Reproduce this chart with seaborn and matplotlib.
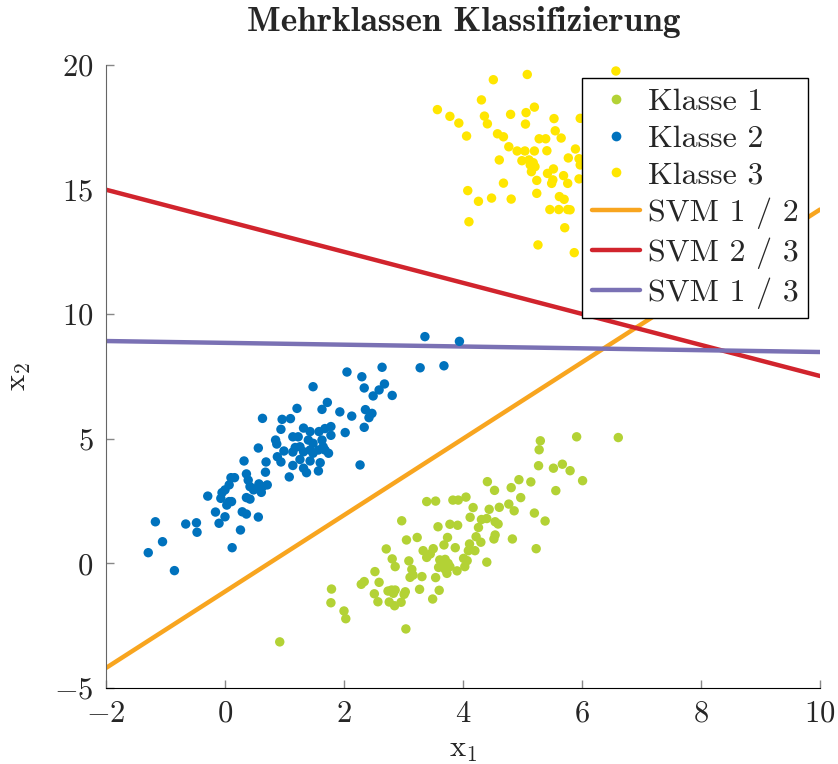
import numpy as np
import pandas as pd
import matplotlib
matplotlib.use("Agg")
import matplotlib.pyplot as plt
from matplotlib.lines import Line2D
import seaborn as sns

# --- Klasse 1 ---
klasse1_x = [0.92, 1.79, 1.78, 2.00, 2.03, 2.29, 2.34, 2.52, 2.59, 2.51, 2.57, 2.71, 2.74, 2.80,
             2.86, 2.83, 2.76, 2.85, 2.96, 3.04, 3.03, 3.01, 2.81, 2.86, 3.09, 2.97, 3.05, 3.23,
             3.14, 3.16, 3.11, 3.31, 3.27, 3.33, 3.50, 3.45, 3.39, 3.39, 3.54, 3.58, 3.54, 3.49,
             3.60, 3.61, 3.70, 3.75, 3.64, 3.70, 3.78, 3.59, 3.73, 3.74, 3.68, 3.83, 3.92, 4.05,
             3.87, 3.91, 3.78, 4.01, 4.07, 4.03, 3.90, 4.11, 4.09, 4.20, 4.22, 4.30, 4.17, 4.12,
             4.31, 4.40, 4.26, 4.41, 4.53, 4.44, 4.61, 4.54, 4.59, 4.54, 4.52, 4.40, 4.77, 4.86,
             4.81, 4.94, 4.97, 4.83, 5.14, 5.20, 5.23, 5.38, 5.27, 5.30, 5.28, 5.52, 5.67, 5.80,
             5.56, 6.01, 5.91, 6.61]
klasse1_y = [-3.15, -1.03, -1.58, -1.91, -2.22, -0.84, -0.73, -0.33, -0.76, -1.22, -1.54, 0.58,
             -1.11, -1.07, -1.07, -1.20, -1.55, -1.70, -1.56, -2.63, -1.14, -1.24, 0.18, -0.13,
             0.10, 1.71, 0.94, 1.04, -0.24, -0.47, -0.56, -0.53, -1.04, 0.51, 0.59, 0.38, 0.24,
             2.48, 2.50, 1.47, -0.57, -1.43, -1.08, 0.14, 0.16, 0.00, -0.06, -0.24, -0.13, -0.16,
             -0.40, 1.04, 0.74, 2.54, 2.54, 2.66, 0.63, 1.53, 1.57, 0.20, 0.11, -0.13, -0.30, 0.78,
             0.51, 0.51, 1.07, 0.85, 2.24, 1.85, 1.76, 1.80, 1.44, 3.28, 2.93, 2.17, 2.25, 1.67,
             1.58, 1.14, 0.98, 0.05, 2.38, 2.11, 3.04, 3.36, 2.64, 0.98, 3.27, 2.02, 0.59, 1.70,
             3.92, 4.92, 4.56, 3.82, 3.98, 3.72, 2.92, 3.32, 5.08, 5.05]

# --- Klasse 2 ---
klasse2_x = [-1.29, -1.17, -1.05, -0.85, -0.66, -0.48, -0.47, -0.29, -0.16, -0.10, -0.07, 0.00,
             -0.05, 0.00, 0.07, 0.07, 0.11, 0.03, 0.12, 0.10, 0.16, 0.26, 0.29, 0.36, 0.32, 0.36,
             0.39, 0.36, 0.42, 0.42, 0.48, 0.53, 0.57, 0.63, 0.71, 0.61, 0.56, 0.56, 0.63, 0.69,
             0.68, 0.96, 1.10, 1.21, 0.94, 0.85, 0.87, 1.14, 0.99, 0.88, 0.94, 1.14, 1.18, 1.14,
             1.08, 1.48, 1.72, 1.63, 1.93, 2.13, 2.05, 2.30, 2.34, 2.64, 2.68, 2.59, 2.49, 2.81,
             2.36, 2.47, 2.42, 2.34, 2.02, 1.78, 1.68, 1.58, 1.78, 1.32, 1.43, 1.23, 1.40, 1.48,
             1.63, 1.65, 1.68, 1.74, 1.26, 1.32, 1.43, 1.48, 1.57, 1.26, 1.43, 1.60, 1.32, 1.37,
             1.57, 2.27, 3.28, 3.68, 3.36, 3.94]
klasse2_y = [0.43, 1.67, 0.87, -0.29, 1.58, 1.63, 1.25, 2.70, 2.06, 1.61, 2.61, 1.87, 2.84, 2.95,
             3.15, 2.48, 2.48, 2.34, 0.63, 3.44, 3.44, 1.34, 2.07, 1.98, 4.11, 3.59, 3.34, 2.64,
             2.58, 3.08, 2.95, 3.01, 3.19, 3.08, 3.15, 2.85, 1.86, 4.63, 5.82, 4.07, 3.66, 5.78,
             5.81, 6.22, 5.38, 4.95, 4.79, 5.08, 4.51, 4.28, 4.07, 4.47, 4.65, 3.93, 3.47, 7.09,
             6.46, 6.18, 6.08, 5.91, 7.68, 7.49, 7.04, 7.87, 7.20, 6.96, 6.72, 6.74, 6.17, 6.02,
             5.85, 5.46, 5.25, 5.49, 5.41, 5.29, 5.14, 5.43, 5.29, 5.08, 4.95, 4.82, 4.95, 4.68,
             4.55, 4.42, 4.68, 4.48, 4.55, 4.42, 4.55, 4.17, 4.11, 4.04, 3.82, 3.64, 3.71, 3.95,
             7.85, 7.93, 9.10, 8.91]

# --- Klasse 3 ---
klasse3_x = [6.57, 5.08, 4.51, 4.31, 3.57, 3.78, 3.93, 4.06, 4.36, 4.41, 4.80, 5.06, 5.20, 5.05,
             5.53, 5.97, 5.55, 5.65, 4.58, 4.68, 5.28, 5.39, 4.77, 4.91, 5.04, 5.20, 5.41, 5.89,
             5.77, 5.95, 4.61, 4.99, 5.11, 5.18, 5.13, 5.21, 5.15, 5.52, 5.42, 5.69, 5.51, 5.49,
             5.76, 5.24, 5.95, 4.68, 4.08, 4.26, 4.48, 4.81, 5.24, 5.62, 5.70, 5.46, 5.61, 5.76,
             4.10, 5.71, 5.26, 5.87, 5.80, 5.97]
klasse3_y = [19.76, 19.62, 19.41, 18.60, 18.21, 17.94, 17.67, 17.15, 17.95, 17.64, 18.02, 18.09,
             18.31, 17.63, 17.85, 17.86, 17.36, 17.07, 17.24, 17.12, 17.04, 17.04, 16.72, 16.55,
             16.55, 16.55, 16.56, 16.63, 16.27, 16.24, 16.19, 16.16, 16.19, 16.08, 15.99, 15.92,
             15.72, 15.83, 15.65, 15.56, 15.39, 15.25, 15.25, 15.37, 15.43, 15.26, 14.96, 14.53,
             14.66, 14.62, 14.85, 14.72, 14.61, 14.20, 14.20, 14.20, 13.71, 13.47, 12.78, 12.47,
             14.19, 15.99]

# --- Trenngeraden der paarweisen SVMs: x2 = slope * x1 + intercept ---
svm_labels = ["SVM 1 / 2", "SVM 2 / 3", "SVM 1 / 3"]
svm_slope = [1.533, -0.623, -0.0367]
svm_intercept = [-1.13, 13.75, 8.85]

class_labels = ["Klasse 1", "Klasse 2", "Klasse 3"]
class_colors = ["#b3d235", "#0072bd", "#ffe600"]
svm_colors = ["#f8a51f", "#d1242d", "#7a71b4"]

x_ticks = [-2, 0, 2, 4, 6, 8, 10]
y_ticks = [-5, 0, 5, 10, 15, 20]

points = pd.concat([
    pd.DataFrame({"x1": xs, "x2": ys, "Klasse": lab})
    for xs, ys, lab in zip([klasse1_x, klasse2_x, klasse3_x],
                           [klasse1_y, klasse2_y, klasse3_y], class_labels)
], ignore_index=True)

x_grid = np.array([x_ticks[0], x_ticks[-1]], dtype=float)
lines = pd.concat([
    pd.DataFrame({"x1": x_grid, "x2": m * x_grid + b, "SVM": lab})
    for m, b, lab in zip(svm_slope, svm_intercept, svm_labels)
], ignore_index=True)

sns.set_style("ticks")
plt.rcParams.update({
    "font.family": "cmr10",
    "mathtext.fontset": "cm",
    "axes.formatter.use_mathtext": True,
    "font.size": 22,
})

fig = plt.figure(figsize=(8.38, 7.64), dpi=100)
ax = fig.add_axes([0.1265, 0.0995, 0.852, 0.8154])

sns.lineplot(data=lines, x="x1", y="x2", hue="SVM", hue_order=svm_labels,
             palette=svm_colors, linewidth=3.2, estimator=None, sort=False,
             legend=False, ax=ax, zorder=2)
sns.scatterplot(data=points, x="x1", y="x2", hue="Klasse", hue_order=class_labels,
                palette=class_colors, s=46, linewidth=0, legend=False, ax=ax, zorder=3)

ax.set_xlim(x_ticks[0], x_ticks[-1])
ax.set_ylim(y_ticks[0], y_ticks[-1])
ax.set_xticks(x_ticks)
ax.set_yticks(y_ticks)
ax.tick_params(direction="in", length=6, width=1, color="#888888",
               labelsize=22, pad=9)

for side in ("top", "right"):
    ax.spines[side].set_visible(False)
ax.spines["left"].set_color("#666666")
ax.spines["bottom"].set_color("black")

ax.set_xlabel(r"$\mathrm{x}_1$", fontsize=22, labelpad=6)
ax.set_ylabel(r"$\mathrm{x}_2$", fontsize=22, labelpad=15)

fig.text(0.553, 1 - 22 / 764, "Mehrklassen Klassifizierung",
         family="cmb10", fontsize=25.5, ha="center", va="center")

handles = [Line2D([], [], linestyle="none", marker="o", markersize=7,
                  markerfacecolor=c, markeredgewidth=0) for c in class_colors]
handles += [Line2D([], [], color=c, linewidth=3.2) for c in svm_colors]
leg = ax.legend(handles, class_labels + svm_labels, loc="upper right",
                bbox_to_anchor=(0.983, 0.979), borderaxespad=0, fontsize=23,
                frameon=True, fancybox=False, handlelength=1.5,
                handletextpad=0.25, labelspacing=0.26, borderpad=0.3)
leg.get_frame().set_edgecolor("black")
leg.get_frame().set_linewidth(1.0)
leg.get_frame().set_alpha(1.0)
leg.set_zorder(5)

fig.savefig("out.png", dpi=100)
